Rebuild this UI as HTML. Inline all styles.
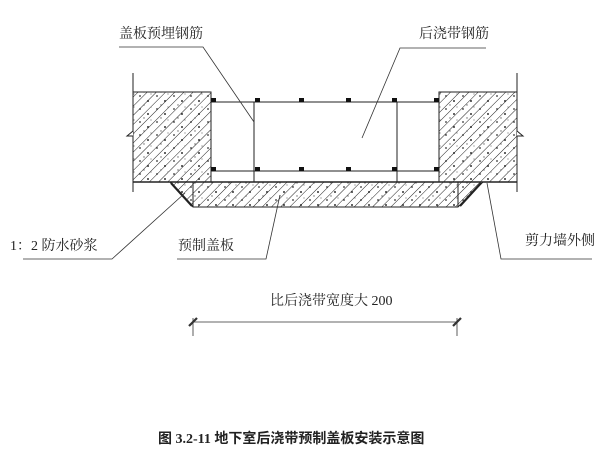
<!DOCTYPE html>
<html><head><meta charset="utf-8"><style>
html,body{margin:0;padding:0;background:#fff;}
svg{display:block;}
text{font-family:"Liberation Serif","Noto Serif CJK SC",serif;fill:#222;}
</style></head><body>
<svg width="613" height="475" viewBox="0 0 613 475" xmlns="http://www.w3.org/2000/svg">
<defs>
<pattern id="h" patternUnits="userSpaceOnUse" width="6.5" height="6.5" patternTransform="rotate(45)">
<line x1="0" y1="0" x2="0" y2="6.5" stroke="#222" stroke-width="1"/>
</pattern>
<pattern id="d" patternUnits="userSpaceOnUse" width="17" height="13">
<circle cx="4" cy="5" r="0.9" fill="#333"/><circle cx="12" cy="10" r="1" fill="#333"/>
<circle cx="8" cy="1" r="0.7" fill="#666"/><circle cx="15" cy="3" r="0.6" fill="#777"/>
</pattern>
</defs>
<g stroke="#222" fill="none" stroke-width="1">
<line x1="133" y1="73" x2="133" y2="92"/>
<line x1="517" y1="73" x2="517" y2="92"/>
</g>
<rect x="133" y="92" width="78" height="90" fill="url(#h)"/>
<rect x="133" y="92" width="78" height="90" fill="url(#d)" stroke="#222" stroke-width="1"/>
<rect x="439" y="92" width="78" height="90" fill="url(#h)"/>
<rect x="439" y="92" width="78" height="90" fill="url(#d)" stroke="#222" stroke-width="1"/>
<polygon points="170,182 483,182 458,207 193,207" fill="url(#h)"/>
<polygon points="170,182 483,182 458,207 193,207" fill="url(#d)" stroke="#222" stroke-width="1"/>
<g stroke="#222" fill="none">
<line x1="193" y1="182" x2="193" y2="207"/>
<line x1="458" y1="182" x2="458" y2="207"/>
<line x1="171" y1="183" x2="192" y2="206" stroke-width="2.2"/>
<line x1="481" y1="183" x2="460" y2="206" stroke-width="2.2"/>
<line x1="133" y1="182" x2="517" y2="182" stroke-width="1.5"/>
<line x1="133" y1="182" x2="133" y2="192"/>
<line x1="517" y1="182" x2="517" y2="192"/>
<polyline points="133,131 127,136 133,136" fill="#fff"/>
<polyline points="517,131 523,136 517,136" fill="#fff"/>
<line x1="211" y1="102" x2="439" y2="102"/>
<line x1="211" y1="171" x2="439" y2="171"/>
<line x1="254" y1="102" x2="254" y2="182"/>
<line x1="397" y1="102" x2="397" y2="182"/>
</g>
<g fill="#111">
<rect x="211" y="98" width="5" height="4"/><rect x="255" y="98" width="5" height="4"/><rect x="299" y="98" width="5" height="4"/><rect x="346" y="98" width="5" height="4"/><rect x="392" y="98" width="5" height="4"/><rect x="434" y="98" width="5" height="4"/>
<rect x="211" y="167" width="5" height="4"/><rect x="255" y="167" width="5" height="4"/><rect x="299" y="167" width="5" height="4"/><rect x="346" y="167" width="5" height="4"/><rect x="392" y="167" width="5" height="4"/><rect x="434" y="167" width="5" height="4"/>
</g>
<g stroke="#333" fill="none" stroke-width="0.8">
<polyline points="119,47 203,47 254,122"/>
<polyline points="486,48 400,48 362,138"/>
<polyline points="23,259 112,259 185,193"/>
<polyline points="177,259 266,259 280,195"/>
<polyline points="487,183 501,259 592,259"/>
<line x1="192" y1="322" x2="458" y2="322"/>
<line x1="193" y1="318" x2="193" y2="336"/>
<line x1="457" y1="318" x2="457" y2="336"/>
<line x1="189" y1="326" x2="197" y2="318" stroke-width="2.2"/>
<line x1="453" y1="326" x2="461" y2="318" stroke-width="2.2"/>
</g>
<g font-size="14">
<text x="119" y="38">盖板预埋钢筋</text>
<text x="419" y="38">后浇带钢筋</text>
<text x="10" y="250">1：2 防水砂浆</text>
<text x="178" y="250">预制盖板</text>
<text x="525" y="245">剪力墙外侧</text>
<text x="270" y="305">比后浇带宽度大 200</text>
</g>
<text x="158" y="443" font-size="14" font-weight="bold" style="font-family:'Liberation Serif','Noto Sans CJK SC',serif">图 3.2-11  地下室后浇带预制盖板安装示意图</text>
</svg>
</body></html>
